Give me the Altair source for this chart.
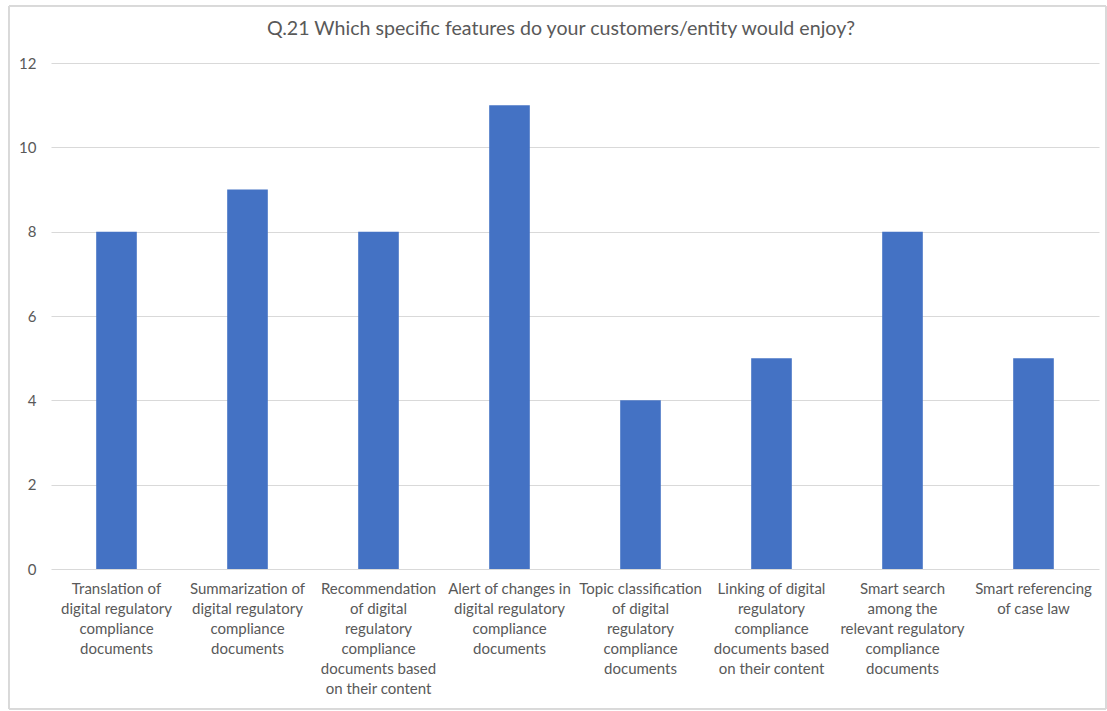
import altair as alt
import pandas as pd

categories = [
    "Translation of\ndigital regulatory\ncompliance\ndocuments",
    "Summarization of\ndigital regulatory\ncompliance\ndocuments",
    "Recommendation\nof digital\nregulatory\ncompliance\ndocuments based\non their content",
    "Alert of changes in\ndigital regulatory\ncompliance\ndocuments",
    "Topic classification\nof digital\nregulatory\ncompliance\ndocuments",
    "Linking of digital\nregulatory\ncompliance\ndocuments based\non their content",
    "Smart search\namong the\nrelevant regulatory\ncompliance\ndocuments",
    "Smart referencing\nof case law",
]
values = [8, 9, 8, 11, 4, 5, 8, 5]
title_text = "Q.21 Which specific features do your customers/entity would enjoy?"

df = pd.DataFrame({"feature": categories, "count": values})

FONT = "Lato"
TXT = "#595959"

bars = alt.Chart(df).mark_bar(color="#4472C4").encode(
    x=alt.X(
        "feature:N",
        sort=categories,
        title=None,
        scale=alt.Scale(paddingInner=0.69, paddingOuter=0.345),
        axis=alt.Axis(
            labelExpr="split(datum.value, '\\n')",
            labelAngle=0,
            labelFont=FONT,
            labelFontSize=15,
            labelColor=TXT,
            labelLineHeight=20,
            labelPadding=12,
            labelBaseline="top",
            ticks=False,
            domain=False,
            grid=False,
            labelLimit=200,
        ),
    ),
    y=alt.Y(
        "count:Q",
        title=None,
        scale=alt.Scale(domain=[0, 12]),
        axis=alt.Axis(
            values=[0, 2, 4, 6, 8, 10, 12],
            labelFont=FONT,
            labelFontSize=15,
            labelColor=TXT,
            labelPadding=15,
            ticks=False,
            domain=False,
            grid=True,
            gridColor="#D9D9D9",
            gridWidth=1,
        ),
    ),
)

frame = alt.Chart(df).mark_rect(fill=None, stroke="#D9D9D9", strokeWidth=1).encode(
    x=alt.value(-42), x2=alt.value(1055), y=alt.value(-57), y2=alt.value(646)
)

chart = alt.layer(frame, bars).properties(
    width=1048,
    height=506,
    title=alt.TitleParams(
        title_text,
        font=FONT,
        fontSize=19.6,
        fontWeight="normal",
        color=TXT,
        anchor="middle",
        dx=-14,
        offset=-34,
    ),
    padding={"left": 51, "top": 63, "right": 8, "bottom": 142},
    autosize=alt.AutoSizeParams(type="none"),
).configure(
    background="white",
    view=alt.ViewConfig(stroke=None),
)

chart.save("out.html", embed_options={"renderer": "svg", "actions": False})
